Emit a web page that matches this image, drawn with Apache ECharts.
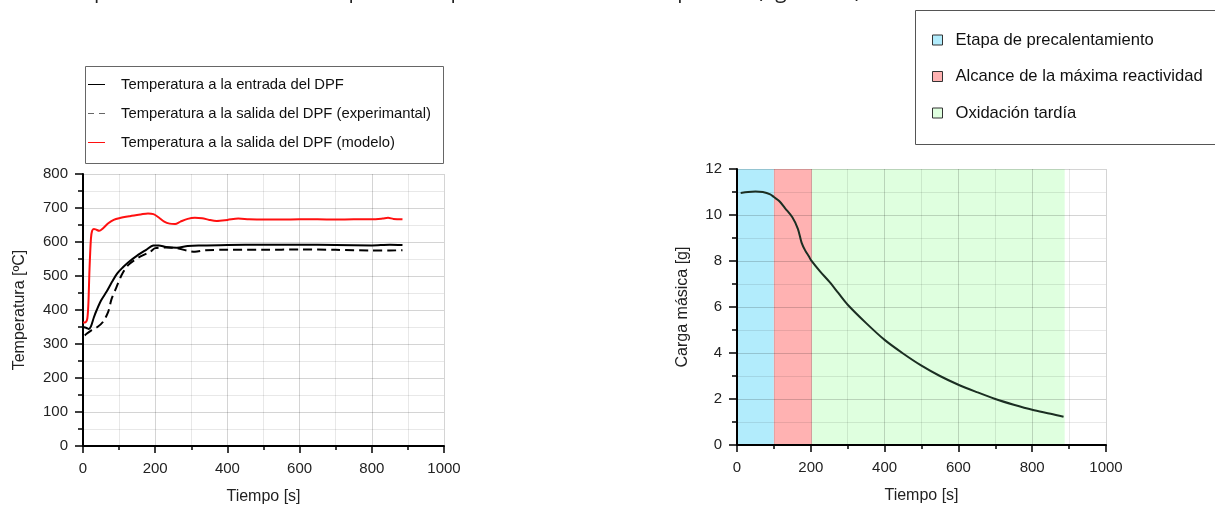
<!DOCTYPE html>
<html>
<head>
<meta charset="utf-8">
<script src="https://cdn.jsdelivr.net/npm/echarts@6/dist/echarts.min.js"></script>
<style>
  html, body { margin: 0; padding: 0; background: #fff; }
  #chart { width: 1215px; height: 511px; }
</style>
</head>
<body>
<div id="chart"></div>
<script>
// temperatura a la entrada del DPF
const tInlet = [0, 10, 16, 22, 30, 38, 50, 66, 80, 93, 110, 125, 150, 175, 195, 210, 230, 260, 290, 320, 400, 500, 600, 700, 800, 850, 885];
const TInlet = [350, 347, 344, 352, 378, 400, 428, 455, 482, 505, 525, 540, 560, 577, 590, 590, 585, 583, 588, 590, 591, 592, 592, 591, 590, 592, 591];
// temperatura a la salida (experimental)
const tOutExp = [5, 10, 24, 40, 56, 70, 79, 93, 107, 125, 158, 186, 200, 230, 260, 290, 310, 340, 400, 500, 600, 700, 800, 850, 885];
const TOutExp = [325, 330, 341, 350, 366, 395, 432, 468, 503, 532, 557, 571, 582, 584, 582, 574, 571, 576, 577, 577, 578, 577, 575, 575, 576];
// temperatura a la salida (modelo)
const tOutMod = [0, 8, 12, 15, 18, 22, 25, 30, 35, 45, 55, 70, 85, 100, 130, 160, 180, 195, 210, 225, 240, 255, 270, 290, 310, 330, 350, 370, 400, 430, 460, 500, 550, 600, 650, 700, 750, 800, 830, 845, 860, 885];
const TOutMod = [363, 365, 375, 420, 520, 610, 632, 638, 637, 633, 640, 655, 665, 670, 676, 681, 684, 682, 672, 660, 654, 653, 660, 668, 671, 670, 665, 662, 665, 669, 667, 666, 666, 667, 667, 666, 667, 667, 669, 671, 668, 667];
// carga másica
const tMass = [10, 30, 50, 70, 90, 100, 115, 130, 150, 165, 175, 185, 195, 200, 225, 250, 275, 300, 350, 400, 450, 500, 550, 600, 650, 700, 750, 800, 850, 885];
const mass = [10.96, 11.0, 11.02, 11.0, 10.9, 10.78, 10.6, 10.3, 9.9, 9.4, 8.8, 8.45, 8.2, 8.05, 7.55, 7.1, 6.6, 6.1, 5.3, 4.57, 3.98, 3.45, 3.0, 2.62, 2.3, 2.0, 1.75, 1.53, 1.36, 1.23];
// etapas
const stageNames = ['Etapa de precalentamiento', 'Alcance de la máxima reactividad', 'Oxidación tardía'];
const stageRanges = [[0, 100], [100, 203], [203, 888]];
const stageColors = ['#b2ecfc', '#ffb2b2', '#dfffdf'];
const seriesNames = ['Temperatura a la entrada del DPF', 'Temperatura a la salida del DPF (experimantal)', 'Temperatura a la salida del DPF (modelo)'];

const zip = (a, b) => a.map((v, i) => [v, b[i]]);
const font = 'Liberation Sans, Arial, sans-serif';
const solidIcon = 'path://M0,0h17v1h-17z';
const dashIcon = 'path://M0,0h6v1h-6z M11,0h6v1h-6z';

const chart = echarts.init(document.getElementById('chart'));

function xAx(gridIndex) {
  return {
    gridIndex: gridIndex, type: 'value', min: 0, max: 1000, interval: 200,
    name: 'Tiempo [s]', nameLocation: 'middle', nameGap: 43,
    nameTextStyle: { fontSize: 16, color: '#222', fontFamily: font },
    axisLine: { show: true, onZero: false, lineStyle: { color: '#000', width: 2 } },
    axisTick: { show: true, length: 7, lineStyle: { color: '#000', width: 1.5 } },
    minorTick: { show: true, splitNumber: 2, length: 4, lineStyle: { color: '#000', width: 1.5 } },
    axisLabel: { fontSize: 15, color: '#222', margin: 15, fontFamily: font, formatter: v => String(v) },
    splitLine: { show: true, lineStyle: { color: 'rgba(0,0,0,0.17)', width: 1 } },
    minorSplitLine: { show: true, lineStyle: { color: 'rgba(0,0,0,0.09)', width: 1 } },
    z: 3
  };
}
function yAx(gridIndex, max, interval, name, gap) {
  return {
    gridIndex: gridIndex, type: 'value', min: 0, max: max, interval: interval,
    name: name, nameLocation: 'middle', nameGap: gap,
    nameTextStyle: { fontSize: 16, color: '#222', fontFamily: font },
    axisLine: { show: true, onZero: false, lineStyle: { color: '#000', width: 2 } },
    axisTick: { show: true, length: 8, lineStyle: { color: '#000', width: 1.5 } },
    minorTick: { show: true, splitNumber: 2, length: 5, lineStyle: { color: '#000', width: 1.5 } },
    axisLabel: { fontSize: 15, color: '#222', margin: 15, fontFamily: font, formatter: v => String(v) },
    splitLine: { show: true, lineStyle: { color: 'rgba(0,0,0,0.17)', width: 1 } },
    minorSplitLine: { show: true, lineStyle: { color: 'rgba(0,0,0,0.09)', width: 1 } },
    z: 3
  };
}

const bandSeries = stageNames.map((n, i) => ({
  name: n,
  type: 'custom',
  xAxisIndex: 1, yAxisIndex: 1,
  z: 1,
  itemStyle: { color: stageColors[i] },
  encode: { x: [0, 1] },
  data: [stageRanges[i]],
  renderItem: function (params, api) {
    const p0 = api.coord([api.value(0), 12]);
    const p1 = api.coord([api.value(1), 0]);
    return {
      type: 'rect',
      shape: { x: p0[0], y: p0[1], width: p1[0] - p0[0], height: p1[1] - p0[1] },
      style: { fill: api.visual('color') }
    };
  }
}));

chart.setOption({
  animation: false,
  textStyle: { fontFamily: font },
  grid: [
    { left: 83, right: 771, top: 174, bottom: 65 },
    { left: 737, right: 109, top: 169, bottom: 66 }
  ],
  xAxis: [xAx(0), xAx(1)],
  yAxis: [
    yAx(0, 800, 100, 'Temperatura [ºC]', 55),
    yAx(1, 12, 2, 'Carga másica [g]', 46)
  ],
  graphic: [
    {
      type: 'text', left: -33, top: -18, silent: true,
      style: {
        text: 'les cuales se presentan a continuación para cada posición de la caída de presión (figura 4.3)',
        fontSize: 21, fontFamily: 'Open Sans', fill: '#222'
      }
    },
    {
      type: 'rect', left: 83, top: 64, silent: true,
      shape: { width: 358, height: 97 },
      style: { fill: 'none', stroke: '#666', lineWidth: 1 }
    },
    {
      type: 'rect', left: 913, top: 8, silent: true,
      shape: { width: 320, height: 134 },
      style: { fill: 'none', stroke: '#555', lineWidth: 1 }
    }
  ],
  legend: [
    {
      data: [
        { name: seriesNames[0], icon: solidIcon },
        { name: seriesNames[1], icon: dashIcon, itemStyle: { color: '#666' } },
        { name: seriesNames[2], icon: solidIcon }
      ],
      orient: 'vertical', left: 88, top: 77, padding: 0,
      itemWidth: 17, itemHeight: 1.5, itemGap: 14,
      textStyle: { fontSize: 14.8, color: '#111', fontFamily: font, padding: [0, 0, 0, 11] }
    },
    {
      data: stageNames,
      icon: 'rect',
      orient: 'vertical', left: 932, top: 31.5, padding: 0,
      itemWidth: 10, itemHeight: 10, itemGap: 19.5,
      itemStyle: { borderColor: '#333', borderWidth: 1 },
      textStyle: { fontSize: 16.6, color: '#111', fontFamily: font, padding: [0, 0, 0, 8] }
    }
  ],
  series: [
    {
      name: seriesNames[0], type: 'line', xAxisIndex: 0, yAxisIndex: 0,
      data: zip(tInlet, TInlet), showSymbol: false, symbol: 'none',
      smooth: 0.3, z: 5,
      lineStyle: { color: '#000', width: 2 }, itemStyle: { color: '#000' }
    },
    {
      name: seriesNames[1], type: 'line', xAxisIndex: 0, yAxisIndex: 0,
      data: zip(tOutExp, TOutExp), showSymbol: false, symbol: 'none',
      smooth: 0.3, z: 5,
      lineStyle: { color: '#000', width: 2, type: [9, 5] }, itemStyle: { color: '#000' }
    },
    {
      name: seriesNames[2], type: 'line', xAxisIndex: 0, yAxisIndex: 0,
      data: zip(tOutMod, TOutMod), showSymbol: false, symbol: 'none',
      smooth: 0.3, z: 5,
      lineStyle: { color: '#ff1010', width: 2 }, itemStyle: { color: '#ff1010' }
    },
    ...bandSeries,
    {
      name: 'Carga másica', type: 'line', xAxisIndex: 1, yAxisIndex: 1,
      data: zip(tMass, mass), showSymbol: false, symbol: 'none',
      smooth: 0.3, z: 5,
      lineStyle: { color: '#1b2e22', width: 2 }, itemStyle: { color: '#1b2e22' }
    }
  ]
});
</script>
</body>
</html>
